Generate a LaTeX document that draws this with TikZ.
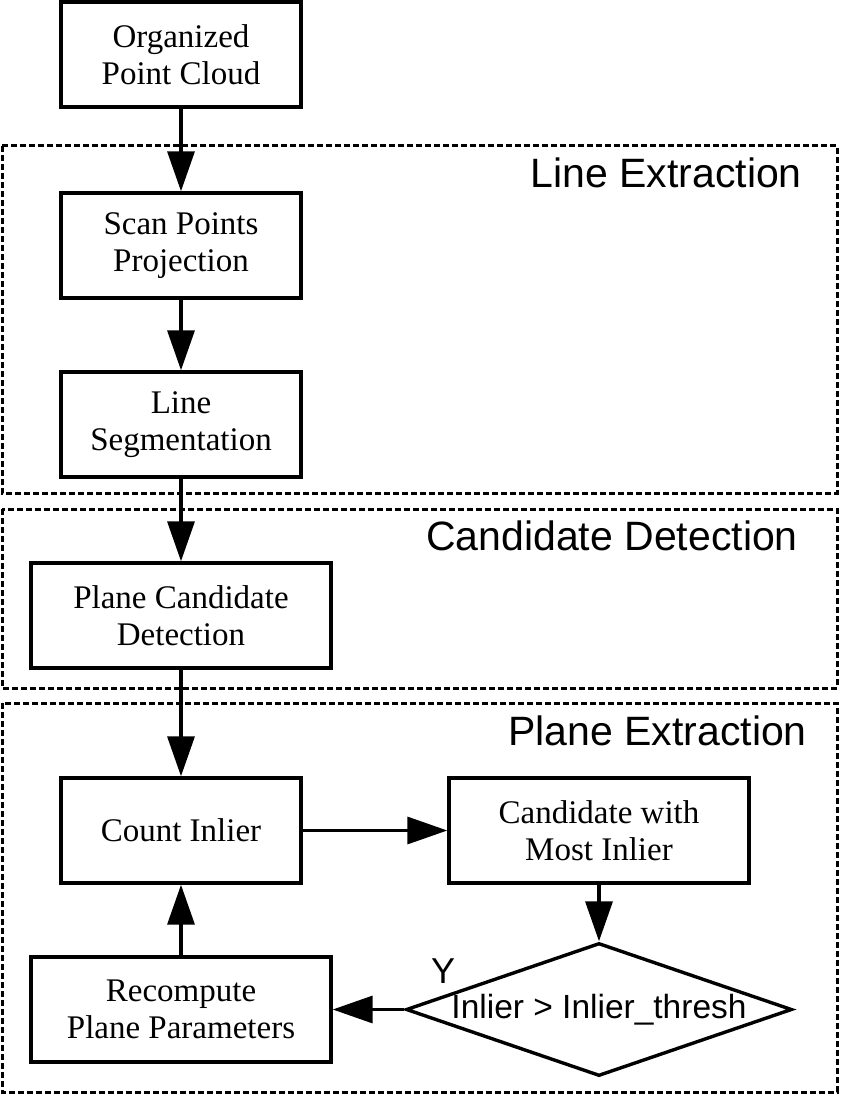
\documentclass[tikz,border=0pt]{standalone}
\usepackage{fontspec}
\setmainfont{Liberation Serif}
\newfontfamily\titlefont{Liberation Sans}
\usetikzlibrary{arrows.meta,shapes.geometric}
\tikzset{
  procbox/.style={draw, line width=3.4pt, minimum width=240pt, minimum height=105pt, align=center, inner sep=0pt,
    font=\fontsize{33}{37}\selectfont},
  widebox/.style={procbox, minimum width=300pt},
  frame/.style={draw, line width=3pt, dash pattern=on 6pt off 3pt},
  grouptitle/.style={anchor=base east, inner sep=0pt, font=\titlefont\fontsize{41}{46}\selectfont},
  flow/.style={line width=3.4pt, -{Triangle[length=40pt,width=27pt]}},
  decision/.style={draw, diamond, line width=3.4pt, minimum width=386pt, minimum height=133pt, inner sep=0pt},
  sanslabel/.style={inner sep=0pt, font=\titlefont\fontsize{33.5}{37}\selectfont}
}
\begin{document}
\begin{tikzpicture}[x=1pt,y=-1pt]
\useasboundingbox (0,0) rectangle (840,1094);
% group frames
\draw[frame] (2,146) rectangle (837,493);
\draw[frame] (2,509) rectangle (837,688);
\draw[frame] (2,703) rectangle (837,1092);
\node[grouptitle] (t1) at (802,188) {Line Extraction};
\node[grouptitle] (t2) at (798,550) {Candidate Detection};
\node[grouptitle] (t3) at (807,745) {Plane Extraction};
% nodes
\node[procbox] (opc) at (181,54.5) {Organized\\Point Cloud};
\node[procbox] (spp) at (181,245.5) {Scan Points\\Projection};
\node[procbox] (ls) at (181,424.5) {Line\\Segmentation};
\node[widebox] (pcd) at (181,615.5) {Plane Candidate\\Detection};
\node[procbox] (ci) at (181,830.5) {Count Inlier};
\node[widebox] (cmi) at (599,830.5) {Candidate with\\Most Inlier};
\node[widebox] (rpp) at (181,1009.5) {Recompute\\Plane Parameters};
\node[decision] (dia) at (599,1009.5) {};
\node[sanslabel] (diatext) at (599,1010) {Inlier > Inlier\_thresh};
\node[sanslabel, anchor=base, font=\titlefont\fontsize{36}{40}\selectfont] (ylab) at (443,983) {Y};
% connectors
\draw[flow] (opc.south) -- (spp.north);
\draw[flow] (spp.south) -- (ls.north);
\draw[flow] (ls.south) -- (pcd.north);
\draw[flow] (pcd.south) -- (ci.north);
\draw[flow] (ci.east) -- (cmi.west);
\draw[flow] (cmi.south) -- (dia.north);
\draw[flow] (dia.west) -- (rpp.east);
\draw[flow] (rpp.north) -- (ci.south);
\end{tikzpicture}
\end{document}
